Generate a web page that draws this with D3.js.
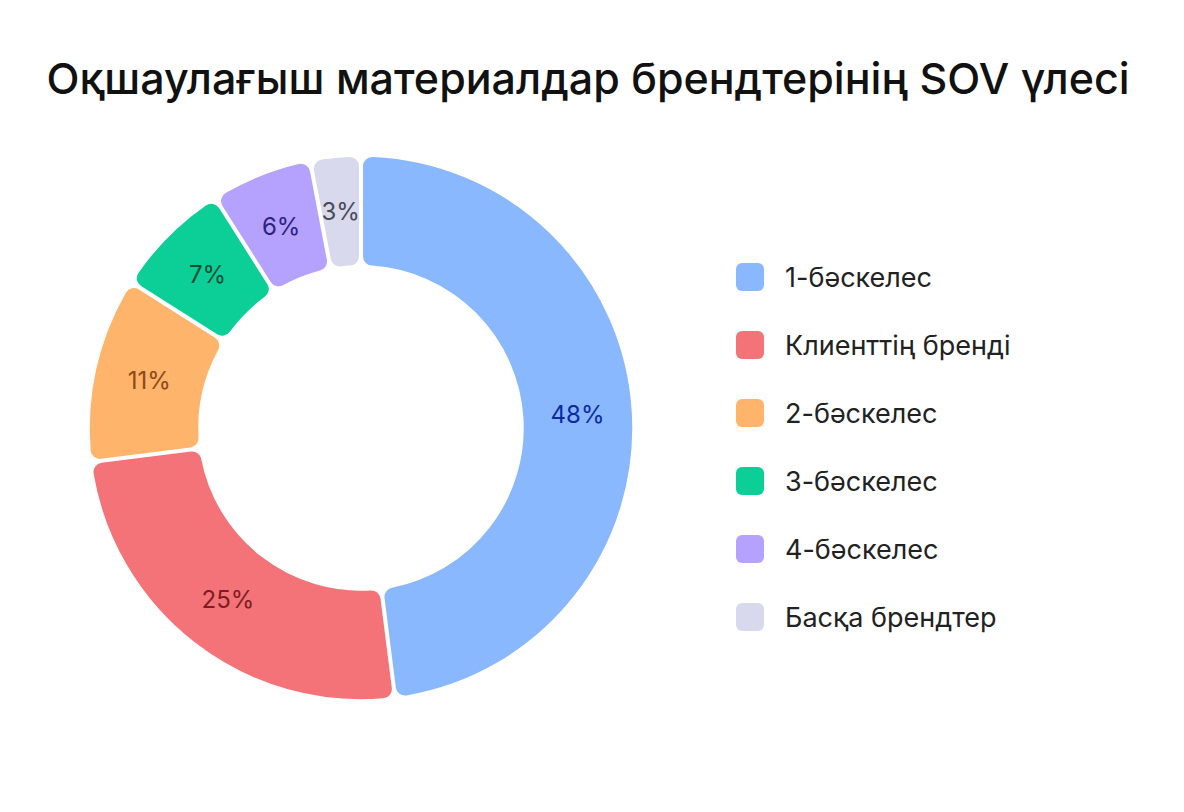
<!DOCTYPE html>
<html><head><meta charset="utf-8">
<script src="https://cdn.jsdelivr.net/npm/d3@7"></script>
<style>body{margin:0;background:#fff;}svg{display:block;font-family:Inter,"Noto Sans",sans-serif;}</style>
</head><body>
<svg id="c" width="1184" height="812"></svg>
<script>
const title = "Оқшаулағыш материалдар брендтерінің SOV үлесі";
const categories = ["1-бәскелес","Клиенттің бренді","2-бәскелес","3-бәскелес","4-бәскелес","Басқа брендтер"];
const values = [48,25,11,7,6,3];
const colors = ["#8ab8ff","#f47378","#ffb46c","#0bcf97","#b4a2fe","#d9d9ee"];
const labelColors = ["#0c2aa0","#7c1d22","#8c4a17","#0a4a35","#2e2280","#4a4a55"];

const svg = d3.select("#c");
svg.append("text").attr("x",588).attr("y",94).attr("text-anchor","middle")
  .attr("font-size",43).attr("font-weight",500).attr("fill","#111").text(title);

const cx=361, cy=428, rO=272, rI=162;
const pie = d3.pie().sort(null).value(d=>d)(values);
const arc = d3.arc().innerRadius(rI).outerRadius(rO).cornerRadius(10).padAngle(0.008);
const g = svg.append("g").attr("transform",`translate(${cx},${cy})`);
g.selectAll("path").data(pie).join("path").attr("d",arc)
  .attr("fill",(d,i)=>colors[i]).attr("stroke","#fff").attr("stroke-width",1.5);
const lab = d3.arc().innerRadius((rO+rI)/2).outerRadius((rO+rI)/2);
g.selectAll("text").data(pie).join("text")
  .attr("transform",d=>`translate(${lab.centroid(d)})`)
  .attr("text-anchor","middle").attr("dominant-baseline","central")
  .attr("font-size",24).attr("fill",(d,i)=>labelColors[i])
  .text(d=>d.data+"%");

const lg = svg.append("g");
const rows = lg.selectAll("g").data(categories).join("g")
  .attr("transform",(d,i)=>`translate(736,${277+i*68})`);
rows.append("rect").attr("x",0).attr("y",-14).attr("width",28).attr("height",28).attr("rx",6)
  .attr("fill",(d,i)=>colors[i]);
rows.append("text").attr("x",49).attr("y",0).attr("dominant-baseline","central")
  .attr("font-size",27).attr("fill","#222").text(d=>d);
</script>
</body></html>
